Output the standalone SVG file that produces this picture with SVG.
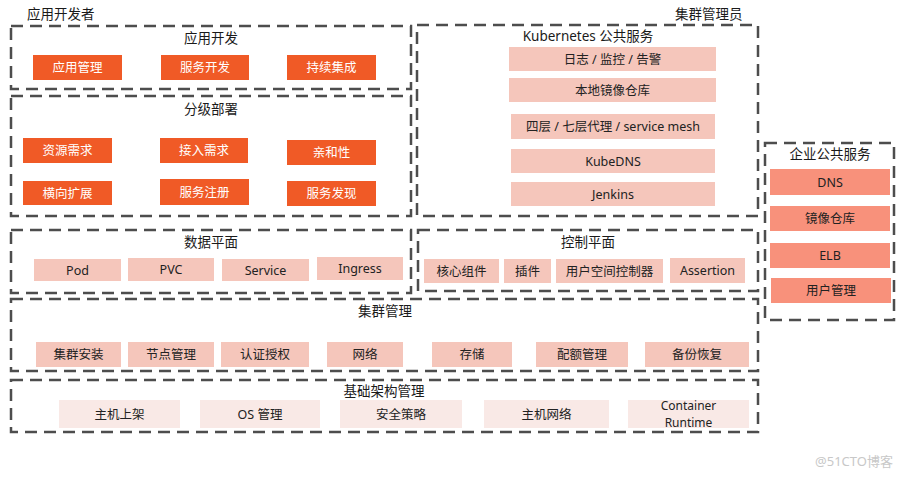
<svg xmlns="http://www.w3.org/2000/svg" width="913" height="478" viewBox="0 0 913 478">
<style>
text{font-family:"Noto Sans","Noto Sans CJK SC",sans-serif;text-anchor:middle}
.t{font-size:13.5px;fill:#1a1a1a}
.lbl{font-size:13.5px;fill:#1a1a1a;text-anchor:start}
.dash{fill:none;stroke:#4d4d4d;stroke-width:2.5;stroke-dasharray:12 7}
.o{fill:#F05A26}
.ot{font-size:12.5px;fill:#fff}
.p{fill:#F5C6BB}
.pt{font-size:12.5px;fill:#222}
.sm{font-size:12px;fill:#222}
.l{fill:#F9E9E6}
.s{fill:#F8917B}
</style>
<rect width="913" height="478" fill="#fff"/>
<text class="lbl" x="27" y="19">应用开发者</text>
<text class="lbl" x="675" y="19">集群管理员</text>

<g id="app-dev">
<rect class="dash" x="11" y="26" width="400" height="63"/>
<text class="t" x="211" y="43">应用开发</text>
<rect class="o" x="33" y="55" width="89" height="25"/><text class="ot" x="77.5" y="72">应用管理</text>
<rect class="o" x="161" y="55" width="88" height="25"/><text class="ot" x="205" y="72">服务开发</text>
<rect class="o" x="287" y="55" width="89" height="25"/><text class="ot" x="331.5" y="72">持续集成</text>
</g>

<g id="deploy">
<rect class="dash" x="11" y="96" width="400" height="120"/>
<text class="t" x="211" y="114">分级部署</text>
<rect class="o" x="23" y="138" width="89" height="25"/><text class="ot" x="67.5" y="155">资源需求</text>
<rect class="o" x="160" y="138" width="88" height="25"/><text class="ot" x="204" y="155">接入需求</text>
<rect class="o" x="287" y="140" width="89" height="25"/><text class="ot" x="331.5" y="157">亲和性</text>
<rect class="o" x="23" y="181" width="89" height="24"/><text class="ot" x="67.5" y="198">横向扩展</text>
<rect class="o" x="160" y="179" width="89" height="26"/><text class="ot" x="204.5" y="197">服务注册</text>
<rect class="o" x="287" y="181" width="89" height="25"/><text class="ot" x="331.5" y="198">服务发现</text>
</g>

<g id="k8s">
<rect class="dash" x="417" y="25" width="341" height="191"/>
<text class="t" x="588" y="41">Kubernetes 公共服务</text>
<rect class="p" x="509" y="47" width="207" height="24"/><text class="pt" x="612.5" y="64">日志 / 监控 / 告警</text>
<rect class="p" x="509" y="78" width="207" height="24"/><text class="pt" x="612.5" y="95">本地镜像仓库</text>
<rect class="p" x="511" y="114" width="204" height="25"/><text class="pt" x="613" y="131">四层 / 七层代理 / service mesh</text>
<rect class="p" x="511" y="149" width="204" height="24"/><text class="pt" x="613" y="166">KubeDNS</text>
<rect class="p" x="511" y="182" width="204" height="24"/><text class="pt" x="613" y="199">Jenkins</text>
</g>

<g id="data-plane">
<rect class="dash" x="11" y="230" width="400" height="63"/>
<text class="t" x="211" y="247">数据平面</text>
<rect class="p" x="34" y="259" width="87" height="22"/><text class="pt" x="77.5" y="275">Pod</text>
<rect class="p" x="128" y="258" width="86" height="23"/><text class="pt" x="171" y="274">PVC</text>
<rect class="p" x="222" y="259" width="87" height="22"/><text class="pt" x="265.5" y="275">Service</text>
<rect class="p" x="317" y="257" width="86" height="23"/><text class="pt" x="360" y="273">Ingress</text>
</g>

<g id="control-plane">
<rect class="dash" x="418" y="230" width="340" height="61"/>
<text class="t" x="588" y="247">控制平面</text>
<rect class="p" x="424" y="259" width="75" height="24"/><text class="pt" x="461.5" y="276">核心组件</text>
<rect class="p" x="504" y="259" width="47" height="24"/><text class="pt" x="527.5" y="276">插件</text>
<rect class="p" x="556" y="259" width="107" height="24"/><text class="pt" x="609.5" y="276">用户空间控制器</text>
<rect class="p" x="670" y="258" width="75" height="25"/><text class="pt" x="707.5" y="275">Assertion</text>
</g>

<g id="cluster-mgmt">
<rect class="dash" x="11" y="299" width="747" height="72"/>
<text class="t" x="385" y="316">集群管理</text>
<rect class="p" x="36" y="342" width="85" height="25"/><text class="pt" x="78.5" y="359">集群安装</text>
<rect class="p" x="128" y="342" width="86" height="25"/><text class="pt" x="171" y="359">节点管理</text>
<rect class="p" x="221" y="342" width="88" height="25"/><text class="pt" x="265" y="359">认证授权</text>
<rect class="p" x="327" y="342" width="76" height="25"/><text class="pt" x="365" y="359">网络</text>
<rect class="p" x="432" y="342" width="80" height="25"/><text class="pt" x="472" y="359">存储</text>
<rect class="p" x="536" y="342" width="92" height="25"/><text class="pt" x="582" y="359">配额管理</text>
<rect class="p" x="645" y="342" width="104" height="25"/><text class="pt" x="697" y="359">备份恢复</text>
</g>

<g id="infra-mgmt">
<rect class="dash" x="11" y="380" width="747" height="52"/>
<text class="t" x="384" y="396">基础架构管理</text>
<rect class="l" x="59" y="400" width="121" height="28"/><text class="pt" x="119.5" y="419">主机上架</text>
<rect class="l" x="200" y="400" width="120" height="28"/><text class="pt" x="260" y="419">OS 管理</text>
<rect class="l" x="340" y="400" width="122" height="28"/><text class="pt" x="401" y="419">安全策略</text>
<rect class="l" x="484" y="400" width="125" height="28"/><text class="pt" x="546.5" y="419">主机网络</text>
<rect class="l" x="628" y="400" width="121" height="28"/><text class="sm" x="688.5" y="410">Container</text><text class="sm" x="688.5" y="426.5">Runtime</text>
</g>

<g id="enterprise">
<rect class="dash" x="765" y="143" width="129" height="177"/>
<text class="t" x="830" y="159">企业公共服务</text>
<rect class="s" x="770" y="169" width="120" height="26"/><text class="pt" x="830" y="187">DNS</text>
<rect class="s" x="770" y="206" width="120" height="25"/><text class="pt" x="830" y="223">镜像仓库</text>
<rect class="s" x="770" y="243" width="120" height="25"/><text class="pt" x="830" y="260">ELB</text>
<rect class="s" x="771" y="278" width="120" height="25"/><text class="pt" x="831" y="295">用户管理</text>
</g>

<g id="connectors"></g>
<text x="854" y="466" style="font-size:13px;fill:#c8c8c8">@51CTO博客</text>
</svg>
